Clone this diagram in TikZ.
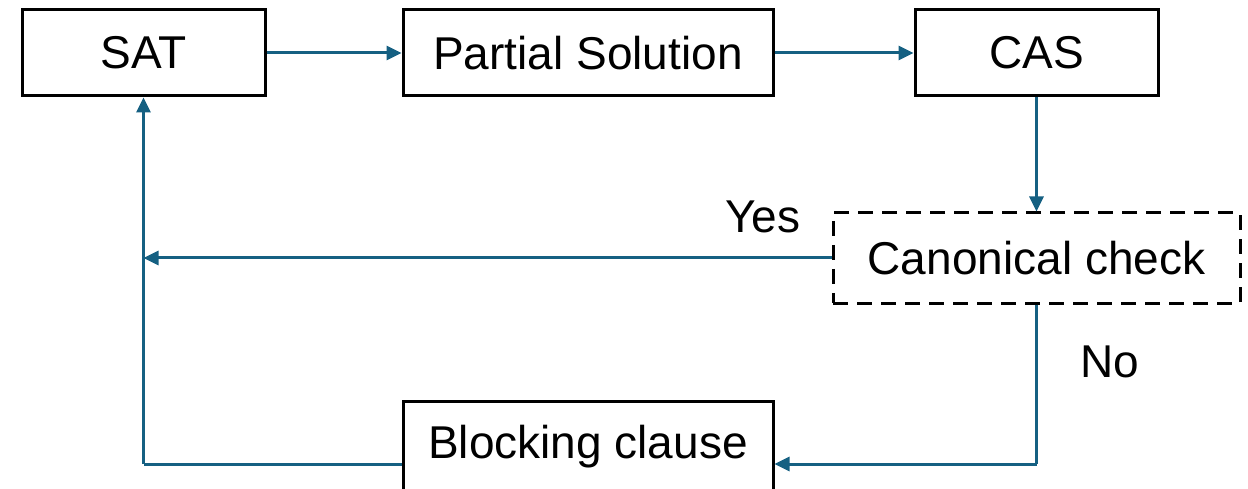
\documentclass[tikz,border=0pt]{standalone}
\usepackage{fontspec}
\setmainfont{Liberation Sans}
\usetikzlibrary{arrows.meta}
\definecolor{flowblue}{HTML}{156082}
\tikzset{
  box/.style={draw=black, line width=3pt, inner sep=0pt, minimum height=86pt, font=\fontsize{46}{55}\selectfont},
  dashbox/.style={box, dash pattern=on 15pt off 9pt, minimum height=90pt},
  flow/.style={draw=flowblue, line width=3pt, -{Triangle[length=15pt,width=14pt]}},
  plain/.style={draw=flowblue, line width=3pt},
  lbl/.style={inner sep=0pt, font=\fontsize{46}{55}\selectfont}
}
\begin{document}
\begin{tikzpicture}[x=1pt, y=1pt]
\useasboundingbox (0, 0) rectangle (1248, 488);
\node [box, minimum width=243pt] (sat) at (143.5, 435) {SAT};
\node [box, minimum width=370pt] (part) at (588, 435) {Partial Solution};
\node [box, minimum width=243pt] (cas) at (1036.5, 435) {CAS};
\node [dashbox, minimum width=407pt] (chk) at (1036.5, 230) {Canonical check};
\node [box, minimum width=370pt, minimum height=92pt] (blk) at (588, 41) {Blocking clause};
\coordinate (loop) at (143.5, 24);
\coordinate (turn) at (chk.south |- loop);
%Arrows
\draw [flow] (sat.east) -- (part.west);
\draw [flow] (part.east) -- (cas.west);
\draw [flow] (cas.south) -- (chk.north);
\draw [flow] (chk.west) -- (chk.west -| loop);
\draw [plain] (chk.south) -- (turn);
\draw [flow] (turn) -- (blk.east |- loop);
\draw [plain] (blk.west |- loop) -- (loop);
\draw [flow] (loop) -- (sat.south);
%Text
\node [lbl] (yes) at (763, 271) {Yes};
\node [lbl] (no) at (1110, 126) {No};
\end{tikzpicture}
\end{document}
